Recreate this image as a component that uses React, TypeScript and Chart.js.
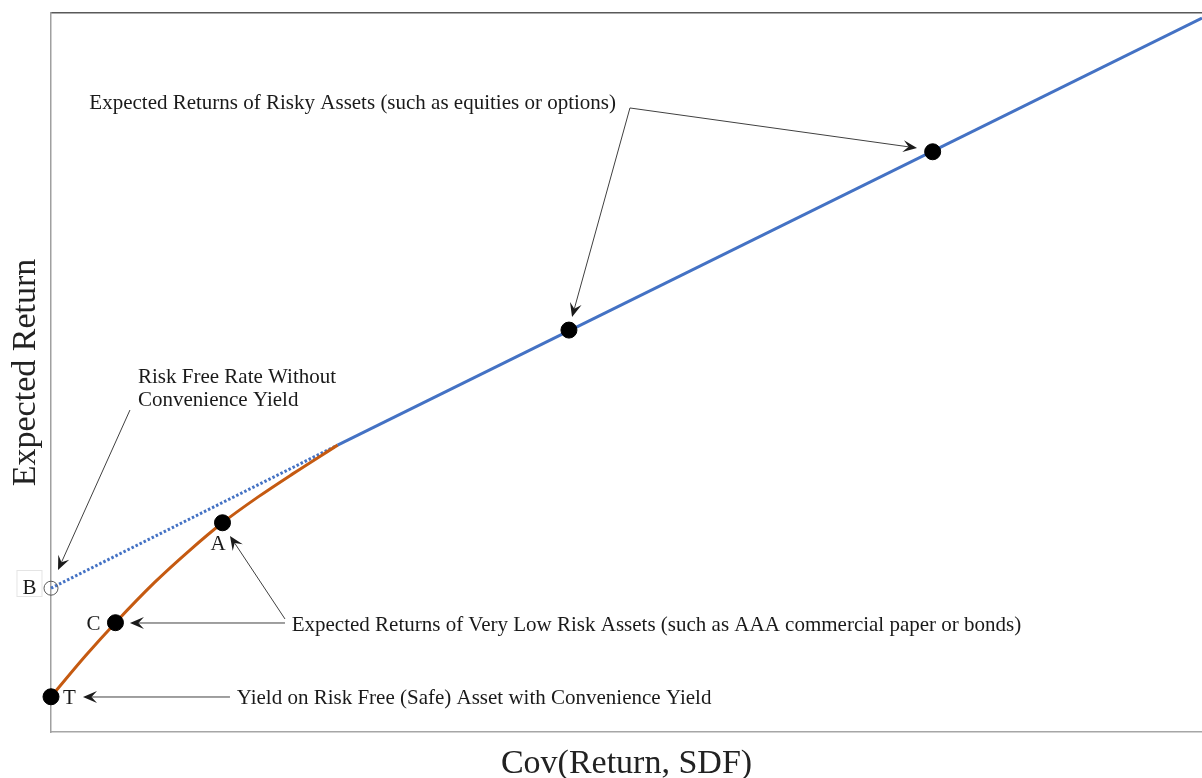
import React, { useEffect, useRef } from "react";
import { Chart, registerables } from "chart.js";

Chart.register(...registerables);

// Orange curve: very low risk assets (T -> C -> A -> junction)
const curveX = [0, 3, 5.6, 9, 12, 14.9, 18, 21, 24.9];
const curveY = [4.9, 10.6, 15.2, 20.8, 25.2, 29.1, 32.7, 35.9, 39.9];
// Blue line: risky assets
const lineX = [24.9, 100];
const lineY = [39.9, 99.3];
// Blue dotted extension to B
const dottedX = [0, 24.9];
const dottedY = [20.0, 39.9];
// Black dots: T, C, A, risky 1, risky 2
const dotX = [0, 5.6, 14.9, 45.0, 76.6];
const dotY = [4.9, 15.2, 29.1, 55.9, 80.7];
// Open circle B
const openX = [0];
const openY = [20.0];

// Point letters (center x, baseline y)
const letterText = ["T", "C", "A", "B"];
const letterX = [1.61, 3.69, 14.51, -1.87];
const letterY = [3.89, 14.19, 25.31, 19.19];

// Notes (left x, baseline y)
const noteText = [
  "Expected Returns of Risky Assets (such as equities or options)",
  "Risk Free Rate Without",
  "Convenience Yield",
  "Expected Returns of Very Low Risk Assets (such as AAA commercial paper or bonds)",
  "Yield on Risk Free (Safe) Asset with Convenience Yield",
];
const noteX = [3.33, 7.56, 7.56, 20.91, 16.13];
const noteY = [86.65, 48.54, 45.34, 14.05, 3.89];

// Arrows
const arrowFromX = [50.3, 50.3, 6.86, 20.33, 20.33, 15.55];
const arrowFromY = [86.79, 86.79, 44.78, 15.72, 15.16, 4.87];
const arrowToX = [75.24, 45.27, 0.61, 15.55, 6.86, 2.78];
const arrowToY = [81.22, 57.72, 22.53, 27.26, 15.16, 4.87];

const FONT = "'Liberation Serif', 'Times New Roman', serif";

const toPts = (xs: number[], ys: number[]) => xs.map((x, i) => ({ x, y: ys[i] }));

function drawArrow(ctx: CanvasRenderingContext2D, x1: number, y1: number, x2: number, y2: number) {
  const ang = Math.atan2(y2 - y1, x2 - x1);
  const len = 14;
  const half = 6;
  const notch = 8.5;
  ctx.beginPath();
  ctx.moveTo(x1, y1);
  ctx.lineTo(x2 - notch * Math.cos(ang), y2 - notch * Math.sin(ang));
  ctx.stroke();
  ctx.save();
  ctx.translate(x2, y2);
  ctx.rotate(ang);
  ctx.beginPath();
  ctx.moveTo(0, 0);
  ctx.lineTo(-len, -half);
  ctx.lineTo(-notch, 0);
  ctx.lineTo(-len, half);
  ctx.closePath();
  ctx.fill();
  ctx.restore();
}

const annotations = {
  id: "annotations",
  afterDraw(chart: any) {
    const ctx: CanvasRenderingContext2D = chart.ctx;
    const xs = chart.scales.x;
    const ys = chart.scales.y;
    ctx.save();
    // arrows
    ctx.strokeStyle = "#404040";
    ctx.fillStyle = "#1a1a1a";
    ctx.lineWidth = 1;
    for (let i = 0; i < arrowFromX.length; i++) {
      drawArrow(
        ctx,
        xs.getPixelForValue(arrowFromX[i]),
        ys.getPixelForValue(arrowFromY[i]),
        xs.getPixelForValue(arrowToX[i]),
        ys.getPixelForValue(arrowToY[i])
      );
    }
    // notes
    ctx.font = `21px ${FONT}`;
    ctx.fillStyle = "#1a1a1a";
    ctx.textBaseline = "alphabetic";
    ctx.textAlign = "left";
    for (let i = 0; i < noteText.length; i++) {
      ctx.fillText(noteText[i], xs.getPixelForValue(noteX[i]), ys.getPixelForValue(noteY[i]));
    }
    // letters
    ctx.textAlign = "center";
    for (let i = 0; i < letterText.length; i++) {
      const px = xs.getPixelForValue(letterX[i]);
      const py = ys.getPixelForValue(letterY[i]);
      if (letterText[i] === "B") {
        ctx.strokeStyle = "#e4e4e4";
        ctx.lineWidth = 1;
        ctx.strokeRect(px - 12.5, py - 23.5, 25, 26);
      }
      ctx.fillText(letterText[i], px, py);
    }
    ctx.restore();
  },
};

export default function App() {
  const ref = useRef<HTMLCanvasElement | null>(null);

  useEffect(() => {
    if (!ref.current) return;
    const chart = new Chart(ref.current, {
      type: "scatter",
      data: {
        datasets: [
          {
            label: "dots",
            data: toPts(dotX, dotY),
            backgroundColor: "#000000",
            borderColor: "#000000",
            pointRadius: 8,
            pointHoverRadius: 8,
            showLine: false,
            clip: false,
            order: 0,
          } as any,
          {
            label: "B",
            data: toPts(openX, openY),
            backgroundColor: "rgba(255,255,255,0)",
            borderColor: "#595959",
            borderWidth: 1,
            pointRadius: 7,
            showLine: false,
            clip: false,
            order: 1,
          } as any,
          {
            label: "curve",
            data: toPts(curveX, curveY),
            borderColor: "#C55A11",
            borderWidth: 3,
            pointRadius: 0,
            showLine: true,
            cubicInterpolationMode: "monotone",
            clip: false,
            order: 2,
          } as any,
          {
            label: "line",
            data: toPts(lineX, lineY),
            borderColor: "#4472C4",
            borderWidth: 3,
            pointRadius: 0,
            showLine: true,
            clip: false,
            order: 3,
          } as any,
          {
            label: "dotted",
            data: toPts(dottedX, dottedY),
            borderColor: "#4472C4",
            borderWidth: 3,
            borderDash: [2.5, 2],
            pointRadius: 0,
            showLine: true,
            clip: false,
            order: 4,
          } as any,
        ],
      },
      options: {
        animation: false,
        responsive: false,
        maintainAspectRatio: false,
        events: [],
        layout: { autoPadding: false, padding: { top: 13, left: 0, right: 0, bottom: 0 } },
        plugins: {
          legend: { display: false },
          tooltip: { enabled: false },
          title: { display: false },
        },
        scales: {
          x: {
            type: "linear",
            position: "bottom",
            min: 0,
            max: 100,
            grid: { display: false, drawTicks: false },
            ticks: { display: false },
            border: { display: true, color: "#a6a6a6", width: 1.5 },
            title: {
              display: true,
              text: "Cov(Return, SDF)",
              color: "#222222",
              font: { family: FONT, size: 34, lineHeight: 1 },
              padding: { top: 15, bottom: -3 },
            },
          },
          xTop: {
            type: "linear",
            axis: "x",
            position: "top",
            min: 0,
            max: 100,
            grid: { display: false, drawTicks: false },
            ticks: { display: false },
            border: { display: true, color: "#595959", width: 1.5 },
          },
          y: {
            type: "linear",
            position: "left",
            min: 0,
            max: 100,
            grid: { display: false, drawTicks: false },
            ticks: { display: false },
            border: { display: true, color: "#a0a0a0", width: 1.5 },
            title: {
              display: true,
              text: "Expected Return",
              color: "#222222",
              font: { family: FONT, size: 34, lineHeight: 1 },
              padding: { top: 9, bottom: 8 },
            },
          },
        } as any,
      },
      plugins: [annotations],
    });
    return () => chart.destroy();
  }, []);

  return (
    <div style={{ position: "fixed", left: 0, top: 0, width: 1202, height: 778, background: "#ffffff" }}>
      <canvas ref={ref} width={1202} height={778} style={{ display: "block" }} />
    </div>
  );
}
